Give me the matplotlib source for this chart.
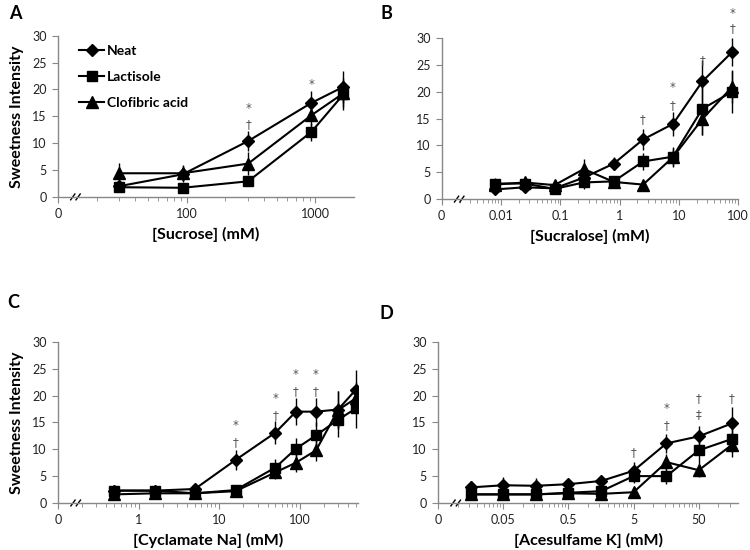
import matplotlib
matplotlib.use('Agg')
import matplotlib.pyplot as plt
from matplotlib.ticker import FixedLocator, NullFormatter
from matplotlib.lines import Line2D
import numpy as np

plt.rcParams['font.family'] = ['Lato', 'DejaVu Sans']

series_names = ['Neat', 'Lactisole', 'Clofibric acid']

# panel A - sucrose
sucrose_x = [30, 93, 300, 930, 1650]
sucrose_neat = [2.0, 4.2, 10.4, 17.5, 20.5]
sucrose_neat_err = [0.8, 1.5, 1.8, 2.3, 3.0]
sucrose_lact = [1.8, 1.7, 2.9, 12.1, 19.1]
sucrose_lact_err = [0.5, 0.5, 0.8, 1.7, 3.0]
sucrose_clof = [4.4, 4.4, 6.2, 15.2, 19.3]
sucrose_clof_err = [2.0, 1.5, 2.2, 2.0, 2.5]
sucrose_marks = [(300, 16.5, '*'), (300, 13.5, '†'), (930, 21.0, '*')]

# panel B - sucralose
sucralose_x = [0.008, 0.025, 0.08, 0.25, 0.8, 2.5, 8, 25, 80]
sucralose_neat = [1.8, 2.2, 2.0, 4.0, 6.6, 11.1, 14.0, 21.9, 27.4]
sucralose_neat_err = [0.8, 0.8, 0.6, 1.5, 1.2, 2.0, 2.3, 4.0, 2.6]
sucralose_lact = [2.9, 2.9, 1.9, 3.1, 3.3, 7.0, 7.9, 16.8, 20.0]
sucralose_lact_err = [1.0, 0.6, 0.5, 1.2, 1.0, 1.6, 1.8, 4.8, 4.0]
sucralose_clof = [2.7, 3.1, 2.6, 5.6, 3.2, 2.7, 7.8, 14.9, 20.9]
sucralose_clof_err = [1.0, 0.7, 0.6, 1.8, 0.9, 0.6, 1.8, 3.0, 3.0]
sucralose_marks = [(2.5, 14.8, '†'), (8, 20.7, '*'), (8, 17.5, '†'),
                   (25, 25.8, '†'), (80, 34.5, '*'), (80, 31.7, '†')]

# panel C - cyclamate
cyclamate_x = [0.5, 1.6, 5, 16, 50, 90, 160, 300, 500]
cyclamate_neat = [2.3, 2.3, 2.6, 8.0, 13.1, 17.0, 17.0, 17.4, 21.1]
cyclamate_neat_err = [0.6, 0.6, 0.6, 1.8, 2.2, 2.5, 2.6, 3.5, 3.6]
cyclamate_lact = [2.3, 2.3, 1.8, 2.4, 6.6, 10.1, 12.6, 15.5, 17.6]
cyclamate_lact_err = [0.6, 0.5, 0.5, 0.7, 1.6, 2.0, 2.5, 3.2, 3.6]
cyclamate_clof = [1.6, 1.8, 1.8, 2.2, 5.7, 7.5, 9.8, 17.3, 19.5]
cyclamate_clof_err = [0.5, 0.5, 0.5, 0.5, 1.2, 1.8, 2.0, 3.5, 3.0]
cyclamate_marks = [(16, 14.5, '*'), (16, 11.2, '†'), (50, 19.5, '*'), (50, 16.2, '†'),
                   (90, 24.0, '*'), (90, 20.8, '†'), (160, 24.0, '*'), (160, 20.8, '†')]

# panel D - acesulfame K
acek_x = [0.016, 0.05, 0.16, 0.5, 1.6, 5, 16, 50, 160]
acek_neat = [2.9, 3.3, 3.2, 3.5, 4.1, 6.0, 11.1, 12.4, 14.8]
acek_neat_err = [1.2, 1.5, 1.5, 0.8, 1.0, 1.7, 1.8, 2.0, 3.0]
acek_lact = [1.6, 1.6, 1.6, 1.9, 2.2, 5.0, 5.0, 9.8, 11.9]
acek_lact_err = [0.5, 0.5, 0.5, 0.5, 0.6, 1.2, 1.5, 2.5, 2.5]
acek_clof = [1.6, 1.6, 1.6, 1.8, 1.7, 2.0, 7.6, 6.1, 10.8]
acek_clof_err = [0.5, 0.5, 0.5, 0.5, 0.5, 0.5, 1.5, 1.2, 2.3]
acek_marks = [(5, 9.3, '†'), (16, 17.5, '*'), (16, 14.5, '†'),
              (50, 19.5, '†'), (50, 16.5, '‡'), (160, 19.5, '†')]

markers = ['D', 's', '^']
msizes = [6.5, 7, 8]


def draw_panel(ax, x, ys, errs, marks, xmin, xmax, xlabel, ylabel=True):
    for y, e, m, ms, name in zip(ys, errs, markers, msizes, series_names):
        ax.errorbar(x, y, yerr=e, fmt='-', marker=m, ms=ms, color='black',
                    ecolor='black', elinewidth=1, capsize=0, lw=1.5, label=name)
    for mx, my, s in marks:
        ax.text(mx, my, s, ha='center', va='center', fontsize=8.5,
                family='DejaVu Sans', color='#555555', clip_on=False)
    ax.set_xscale('log')
    ax.set_xlim(xmin, xmax)
    ax.set_ylim(0, 30)
    ax.set_yticks(range(0, 31, 5))
    decades = []
    d = xmin
    while d <= xmax * 1.0001:
        decades.append(d)
        d *= 10
    minors = [dd * k for dd in decades for k in range(2, 10) if dd * k < xmax]
    ax.xaxis.set_major_locator(FixedLocator(decades))
    ax.xaxis.set_minor_locator(FixedLocator(minors))
    ax.xaxis.set_minor_formatter(NullFormatter())
    labels = ['0'] + ['{:g}'.format(v) for v in decades[1:]]
    ax.set_xticklabels(labels)
    ax.tick_params(axis='both', which='major', labelsize=9, length=4,
                   color='#888888', labelcolor='#222222', pad=4)
    ax.tick_params(axis='x', which='minor', length=3, color='#888888')
    for sp in ['top', 'right']:
        ax.spines[sp].set_visible(False)
    for sp in ['left', 'bottom']:
        ax.spines[sp].set_color('#888888')
        ax.spines[sp].set_linewidth(1)
    # axis break
    for dx in (0.05, 0.068):
        ax.plot([dx - 0.007, dx + 0.007], [-0.018, 0.018], transform=ax.transAxes,
                color='black', lw=1, clip_on=False)
    ax.set_xlabel(xlabel, fontsize=11.5, fontweight='bold', labelpad=5)
    if ylabel:
        ax.set_ylabel('Sweetness Intensity', fontsize=11.5, fontweight='bold', labelpad=6)


fig = plt.figure(figsize=(7.5, 5.5), dpi=100)
axA = fig.add_axes([0.0773, 0.642, 0.395, 0.293])
axB = fig.add_axes([0.589, 0.638, 0.395, 0.293])
axC = fig.add_axes([0.0773, 0.0855, 0.40, 0.293])
axD = fig.add_axes([0.584, 0.0855, 0.40, 0.293])

draw_panel(axA, sucrose_x, [sucrose_neat, sucrose_lact, sucrose_clof],
           [sucrose_neat_err, sucrose_lact_err, sucrose_clof_err], sucrose_marks,
           10, 2000, '[Sucrose] (mM)')
draw_panel(axB, sucralose_x, [sucralose_neat, sucralose_lact, sucralose_clof],
           [sucralose_neat_err, sucralose_lact_err, sucralose_clof_err], sucralose_marks,
           0.001, 100, '[Sucralose] (mM)', ylabel=False)
draw_panel(axC, cyclamate_x, [cyclamate_neat, cyclamate_lact, cyclamate_clof],
           [cyclamate_neat_err, cyclamate_lact_err, cyclamate_clof_err], cyclamate_marks,
           0.1, 530, '[Cyclamate Na] (mM)')
draw_panel(axD, acek_x, [acek_neat, acek_lact, acek_clof],
           [acek_neat_err, acek_lact_err, acek_clof_err], acek_marks,
           0.005, 200, '[Acesulfame K] (mM)', ylabel=False)

handles = [Line2D([], [], color='black', lw=1.5, marker=m, ms=ms)
           for m, ms in zip(markers, msizes)]
axA.legend(handles, series_names, loc='upper left', bbox_to_anchor=(0.03, 1.02),
           frameon=False, handlelength=1.8, handletextpad=0.2, labelspacing=1.0,
           prop={'weight': 'bold', 'size': 10})

fig.text(0.012, 0.975, 'A', fontsize=13, fontweight='bold', va='center')
fig.text(0.508, 0.975, 'B', fontsize=13, fontweight='bold', va='center')
fig.text(0.010, 0.45, 'C', fontsize=13, fontweight='bold', va='center')
fig.text(0.506, 0.43, 'D', fontsize=13, fontweight='bold', va='center')

fig.savefig('out.png', dpi=100)
